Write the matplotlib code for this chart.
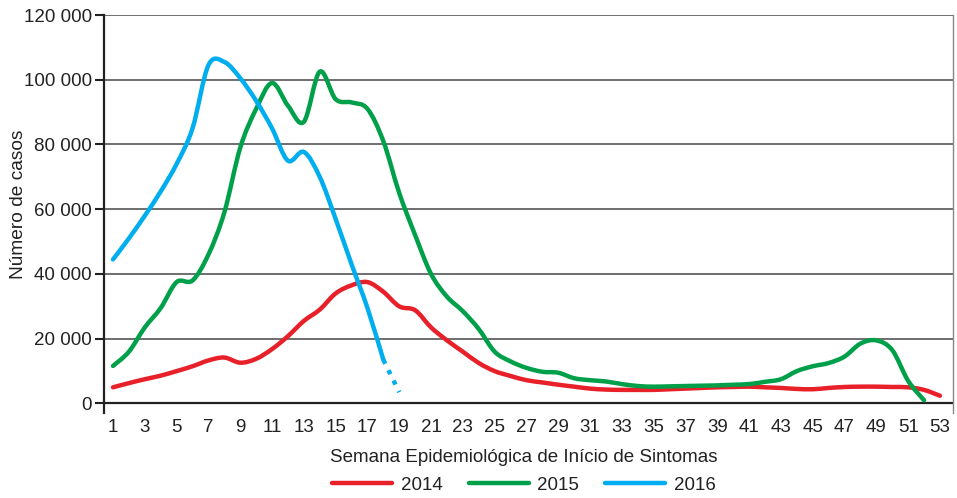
import numpy as np
import matplotlib
matplotlib.use("Agg")
import matplotlib.pyplot as plt
from matplotlib.path import Path
from matplotlib.patches import PathPatch
from matplotlib.lines import Line2D

plt.rcParams['font.family'] = ['Liberation Sans', 'DejaVu Sans']

weeks_2014 = list(range(1, 54))
cases_2014 = [5000, 6300, 7500, 8600, 10000, 11500, 13300, 14200, 12600, 13800,
              16800, 20800, 25500, 29000, 34000, 36500, 37500, 34500, 30000, 28800,
              23500, 19500, 16000, 12500, 10000, 8500, 7200, 6500, 5800, 5200,
              4600, 4300, 4200, 4200, 4200, 4400, 4600, 4800, 5000, 5100,
              5200, 5000, 4800, 4500, 4400, 4800, 5100, 5200, 5200, 5100,
              5000, 4200, 2400]

weeks_2015 = list(range(1, 53))
cases_2015 = [11600, 16000, 23500, 29500, 37500, 38000, 46000, 59000, 79000, 91000,
              99000, 92000, 87000, 102500, 94000, 93000, 91000, 81000, 65000, 52000,
              40000, 33000, 28500, 23000, 16000, 13000, 11000, 9800, 9500, 7800,
              7200, 6800, 6000, 5400, 5200, 5300, 5400, 5500, 5600, 5800,
              6000, 6700, 7500, 10000, 11500, 12500, 14500, 18500, 19500, 16500,
              7000, 1000]

weeks_2016 = list(range(1, 19))
cases_2016 = [44500, 51000, 58000, 65500, 74000, 85000, 104500, 105500, 100500, 93500,
              85000, 75000, 77700, 70000, 57000, 43000, 29500, 13500]
weeks_2016_est = [18, 19]
cases_2016_est = [13500, 3500]

labels = ['2014', '2015', '2016']
colors = ['#E8202A', '#00A04A', '#00AEEF']

ytick_vals = [0, 20000, 40000, 60000, 80000, 100000, 120000]
ytick_labels = ['0', '20 000', '40 000', '60 000', '80 000', '100 000', '120 000']
xtick_vals = list(range(1, 54, 2))

W, H = 957, 498
fig = plt.figure(figsize=(W / 100, H / 100), dpi=100)
ax = fig.add_axes([104 / W, 1 - 413 / H, (953 - 104) / W, (413 - 15) / H])


def smooth_path(xs, ys):
    pts = np.column_stack([xs, ys]).astype(float)
    n = len(pts)
    verts = [pts[0]]
    codes = [Path.MOVETO]
    for i in range(n - 1):
        p0 = pts[i - 1] if i > 0 else pts[i]
        p1 = pts[i]
        p2 = pts[i + 1]
        p3 = pts[i + 2] if i + 2 < n else pts[i + 1]
        c1 = p1 + (p2 - p0) / 6.0
        c2 = p2 - (p3 - p1) / 6.0
        verts += [c1, c2, p2]
        codes += [Path.CURVE4] * 3
    return Path(verts, codes)


for yv in ytick_vals[1:]:
    ax.axhline(yv, color='#555555', lw=1.2, zorder=1)
ax.axhline(0, color='#222222', lw=1.6, zorder=2)

series = [(weeks_2014, cases_2014), (weeks_2015, cases_2015), (weeks_2016, cases_2016)]
for (xs, ys), c in zip(series, colors):
    patch = PathPatch(smooth_path(xs, ys), facecolor='none', edgecolor=c, lw=3.2,
                      capstyle='round', joinstyle='round', zorder=3)
    ax.add_patch(patch)
ax.plot(weeks_2016_est, cases_2016_est, color=colors[2], lw=3.2,
        dashes=(1, 1.6), zorder=3)

ax.set_xlim(0.434, 53.82)
ax.set_ylim(-2935, 120000)

ax.set_yticks(ytick_vals)
ax.set_yticklabels(ytick_labels, fontsize=13.5, color='#222222')
ax.set_xticks(xtick_vals)
ax.set_xticklabels([str(v) for v in xtick_vals], fontsize=13.5, color='#222222')
ax.tick_params(axis='y', length=6.5, width=1.5, color='#222222', pad=2.2)
ax.tick_params(axis='x', length=0, pad=4)

for s in ['top', 'bottom']:
    ax.spines[s].set_visible(False)
ax.spines['left'].set_color('#222222')
ax.spines['left'].set_linewidth(1.6)
ax.spines['right'].set_color('#888888')
ax.spines['right'].set_linewidth(1.0)

fig.text(19 / W, 1 - 204 / H, 'Número de casos', rotation=90, ha='center', va='center',
         fontsize=13.8, color='#222222')
fig.text(524 / W, 1 - 457 / H, 'Semana Epidemiológica de Início de Sintomas',
         ha='center', va='center', fontsize=13.5, color='#222222')

handles = [Line2D([0], [0], color=c, lw=3.2, solid_capstyle='round') for c in colors]
fig.legend(handles, labels, loc='center', bbox_to_anchor=(524 / W, 1 - 485 / H), ncol=3,
           frameon=False, fontsize=13.5, handlelength=3.2, handletextpad=0.45,
           columnspacing=1.4, labelcolor='#222222', borderpad=0, borderaxespad=0)

fig.savefig('out.png', dpi=100)
